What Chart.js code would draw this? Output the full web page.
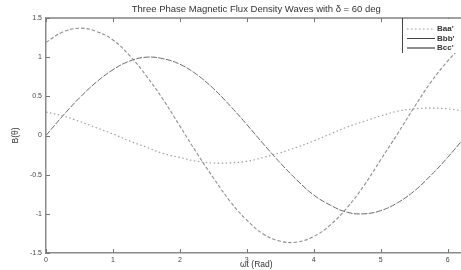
<!DOCTYPE html>
<html>
<head>
<meta charset="utf-8">
<script src="https://cdn.jsdelivr.net/npm/chart.js@4.4.1/dist/chart.umd.min.js"></script>
<style>
  html, body { margin: 0; padding: 0; background: #fff; }
</style>
</head>
<body>
<canvas id="chart" width="461" height="270"></canvas>
<script>
const theta = [0, 0.25, 0.5, 0.75, 1, 1.25, 1.5, 1.75, 2, 2.25, 2.5, 2.75, 3,
  3.25, 3.5, 3.75, 4, 4.25, 4.5, 4.75, 5, 5.25, 5.5, 5.75, 6, 6.25];
const baa = [0.30, 0.25, 0.18, 0.10, 0.02, -0.07, -0.15, -0.23, -0.28, -0.33, -0.35, -0.35, -0.33,
  -0.28, -0.22, -0.15, -0.07, 0.02, 0.11, 0.18, 0.25, 0.31, 0.34, 0.35, 0.34, 0.31];
const bbb = [0, 0.25, 0.48, 0.68, 0.84, 0.95, 1.00, 0.98, 0.91, 0.78, 0.60, 0.38, 0.14,
  -0.11, -0.35, -0.57, -0.76, -0.89, -0.98, -1.00, -0.96, -0.86, -0.71, -0.51, -0.28, -0.03];
const bcc = [1.19, 1.32, 1.37, 1.33, 1.22, 1.02, 0.76, 0.46, 0.12, -0.22, -0.54, -0.84, -1.08,
  -1.26, -1.35, -1.36, -1.29, -1.14, -0.92, -0.64, -0.31, 0.02, 0.36, 0.68, 0.95, 1.17];
const seriesNames = ["Baa'", "Bbb'", "Bcc'"];
const xTicks = [0, 1, 2, 3, 4, 5, 6];
const yTicks = [-1.5, -1, -0.5, 0, 0.5, 1, 1.5];

const chartTitle = "Three Phase Magnetic Flux Density Waves with \u03b4 = 60 deg";
const xTitle = "\u03c9t (Rad)";
const yTitle = "B(\u03b8)";

const FONT = "'Liberation Sans', Arial, sans-serif";

const styles = [
  { color: "#9a9a9a", dash: [1.5, 2.5], width: 1.1 },
  { color: "#6a6a6a", dash: [6, 1.5], width: 1 },
  { color: "#8e8e8e", dash: [3.5, 2], width: 1.1 }
];

const series = [baa, bbb, bcc];

const frame = {
  id: "frame",
  afterDraw(chart) {
    const ctx = chart.ctx;
    const { left, right, top, bottom } = chart.chartArea;
    const xs = chart.scales.x, ys = chart.scales.y;
    ctx.save();

    // top border
    ctx.strokeStyle = "#a0a0a0";
    ctx.lineWidth = 2;
    ctx.beginPath();
    ctx.moveTo(left, top);
    ctx.lineTo(right, top);
    ctx.stroke();

    // inward ticks
    ctx.strokeStyle = "#777";
    ctx.lineWidth = 1;
    ctx.beginPath();
    xTicks.forEach(v => {
      const px = Math.round(xs.getPixelForValue(v)) + 0.5;
      ctx.moveTo(px, bottom); ctx.lineTo(px, bottom - 4);
      ctx.moveTo(px, top); ctx.lineTo(px, top + 4);
    });
    yTicks.forEach(v => {
      const py = Math.round(ys.getPixelForValue(v)) + 0.5;
      ctx.moveTo(left, py); ctx.lineTo(left + 4, py);
    });
    ctx.stroke();

    // titles
    const cx = xs.getPixelForValue(Math.PI);
    ctx.fillStyle = "#333";
    ctx.textAlign = "center";
    ctx.textBaseline = "middle";
    ctx.font = "9.5px " + FONT;
    ctx.fillText(chartTitle, cx, 9);
    ctx.font = "8.5px " + FONT;
    ctx.fillText(xTitle, cx, 265);
    ctx.save();
    ctx.translate(16, ys.getPixelForValue(0));
    ctx.rotate(-Math.PI / 2);
    ctx.fillText(yTitle, 0, 0);
    ctx.restore();

    // legend
    const lx = 402;
    ctx.fillStyle = "#fff";
    ctx.fillRect(lx, top + 1, right - lx, 34);
    ctx.strokeStyle = "#444";
    ctx.lineWidth = 1;
    ctx.beginPath();
    ctx.moveTo(lx + 0.5, top);
    ctx.lineTo(lx + 0.5, top + 35);
    ctx.stroke();
    ctx.font = "bold 8px " + FONT;
    ctx.textAlign = "left";
    seriesNames.forEach((name, i) => {
      const y = top + 11 + i * 9.5;
      const s = styles[i];
      ctx.strokeStyle = i === 1 ? "#444" : s.color;
      ctx.lineWidth = i === 2 ? 2 : 1;
      ctx.setLineDash(i === 0 ? s.dash : []);
      ctx.beginPath();
      ctx.moveTo(407, y);
      ctx.lineTo(435, y);
      ctx.stroke();
      ctx.setLineDash([]);
      ctx.fillStyle = "#333";
      ctx.fillText(name, 437, y);
    });

    ctx.restore();
  }
};

new Chart(document.getElementById("chart"), {
  type: "line",
  data: {
    datasets: series.map((vals, i) => ({
      label: seriesNames[i],
      data: theta.map((t, j) => ({ x: t, y: vals[j] })),
      borderColor: styles[i].color,
      borderWidth: styles[i].width,
      borderDash: styles[i].dash,
      pointRadius: 0,
      tension: 0.4,
      fill: false
    }))
  },
  options: {
    responsive: false,
    animation: false,
    devicePixelRatio: 1,
    layout: { padding: { top: 18, left: 0, right: 0, bottom: 0 } },
    plugins: {
      legend: { display: false },
      title: { display: false },
      tooltip: { enabled: false }
    },
    scales: {
      x: {
        type: "linear",
        min: 0,
        max: 6.2,
        afterBuildTicks: s => { s.ticks = xTicks.map(v => ({ value: v })); },
        afterFit: s => { s.height = 17; },
        grid: { display: false, drawTicks: false },
        border: { display: true, color: "#8a8a8a", width: 1.5 },
        ticks: {
          padding: 3,
          color: "#444",
          font: { size: 7, family: FONT },
          maxRotation: 0,
          callback: v => String(v)
        }
      },
      y: {
        min: -1.5,
        max: 1.5,
        afterBuildTicks: s => { s.ticks = yTicks.map(v => ({ value: v })); },
        afterFit: s => { s.width = 46; },
        grid: { display: false, drawTicks: false },
        border: { display: true, color: "#8a8a8a", width: 1.5 },
        ticks: {
          padding: 4,
          color: "#444",
          font: { size: 7, family: FONT },
          callback: v => String(v)
        }
      }
    }
  },
  plugins: [frame]
});
</script>
</body>
</html>
